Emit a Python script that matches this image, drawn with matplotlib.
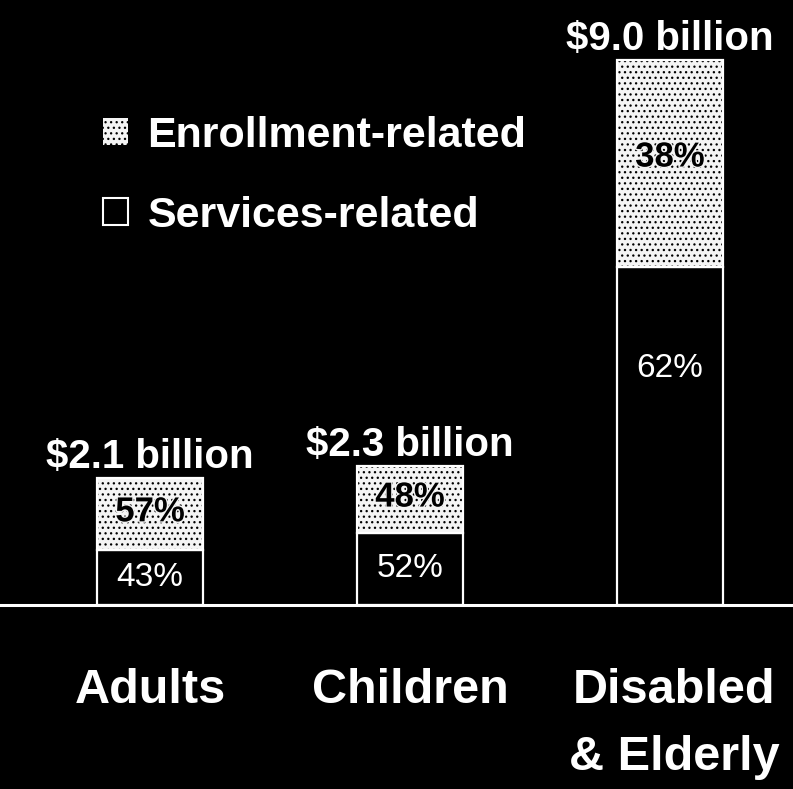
import matplotlib
matplotlib.use("Agg")
import matplotlib.pyplot as plt
import matplotlib.patheffects as pe
from matplotlib.patches import Patch

# data (billions of dollars, share of each bar)
groups = ["Adults", "Children", "Disabled\n& Elderly"]
totals = [2.1, 2.3, 9.0]
services_pct = [43, 52, 62]
enroll_pct = [57, 48, 38]
total_labels = ["$2.1 billion", "$2.3 billion", "$9.0 billion"]

plt.rcParams["font.family"] = ["Liberation Sans", "DejaVu Sans"]
plt.rcParams["hatch.linewidth"] = 0.9
plt.rcParams["hatch.color"] = "black"

W, H = 793, 789
fig = plt.figure(figsize=(W / 100, H / 100), dpi=100, facecolor="black")
base_px = 605          # baseline, px from top
px_per_b = 60.6        # px per billion
ax = fig.add_axes([0, (H - base_px) / H, 1, base_px / H])
ax.set_facecolor("black")
ax.set_ylim(0, base_px / px_per_b)
ax.set_xlim(-150 / 260, (W - 150) / 260)
ax.axis("off")

x = list(range(len(groups)))
serv = [t * p / 100 for t, p in zip(totals, services_pct)]
enr = [t * p / 100 for t, p in zip(totals, enroll_pct)]
w = 106 / 260

# services (black with white outline)
ax.bar(x, serv, width=w, color="black", edgecolor="white", linewidth=1.6)
# enrollment (speckled)
ax.bar(x, enr, bottom=serv, width=w, color="#f4f4f4", edgecolor="black",
       hatch="...", linewidth=0)
ax.bar(x, enr, bottom=serv, width=w, fill=False, edgecolor="white", linewidth=1.6)

ax.axhline(0, color="white", lw=2.2, clip_on=False)

halo = [pe.withStroke(linewidth=2, foreground="#f4f4f4")]
serv_pos = [0.5, 0.5, 0.7]   # where the services % sits inside each bar
for i in x:
    ax.text(i, serv[i] * serv_pos[i], f"{services_pct[i]}%", ha="center", va="center",
            color="white", fontsize=24)
    ax.text(i, serv[i] + enr[i] * 0.53, f"{enroll_pct[i]}%", ha="center", va="center",
            color="black", fontsize=25, fontweight="bold", path_effects=halo)
    ax.annotate(total_labels[i], (i, totals[i]), xytext=(0, 1),
                textcoords="offset points", ha="center", va="bottom",
                color="white", fontsize=29, fontweight="bold", annotation_clip=False)

for i, g in enumerate(groups):
    fig.text((150 + 260 * i) / W if i < 2 else 674 / W, 1 - 668 / H, g,
             ha="center", va="top", color="white", fontsize=35, fontweight="bold",
             linespacing=1.62)

handles = [Patch(facecolor="#f4f4f4", edgecolor="black", hatch="...", linewidth=0),
           Patch(facecolor="black", edgecolor="white", linewidth=1.5)]
leg = fig.legend(handles, ["Enrollment-related", "Services-related"],
                 loc="upper left", bbox_to_anchor=(103 / W, 1 - 116 / H),
                 frameon=False, fontsize=31, handlelength=0.58, handleheight=0.58,
                 handletextpad=0.45, labelspacing=0.92, borderpad=0, borderaxespad=0)
for t in leg.get_texts():
    t.set_color("white")
    t.set_fontweight("bold")

fig.savefig("out.png", dpi=100, facecolor="black")
